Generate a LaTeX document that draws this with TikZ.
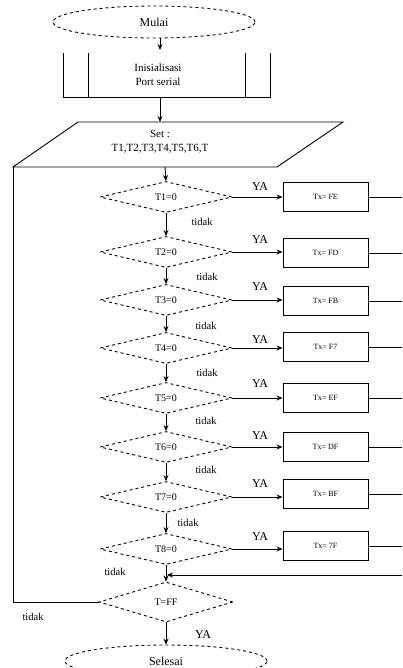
\documentclass[tikz,border=0pt]{standalone}
\usepackage{fontspec}
\setmainfont{Liberation Serif}
\usetikzlibrary{shapes.geometric,arrows.meta}
\tikzset{
  every picture/.style={line width=0.9pt},
  arr/.style={-{Stealth[length=6pt,width=5pt]}},
  term/.style={ellipse,draw,dashed,minimum width=202pt,minimum height=32pt,inner sep=0pt,font=\fontsize{12}{13}\selectfont},
  dec/.style={diamond,draw,dashed,minimum width=132pt,minimum height=31pt,inner sep=0pt,aspect=4,font=\fontsize{10}{11}\selectfont},
  outbox/.style={rectangle,draw,minimum width=85pt,minimum height=29pt,inner sep=0pt,font=\fontsize{8}{9}\selectfont},
  lbl/.style={font=\fontsize{10.5}{11}\selectfont,inner sep=0pt},
  ya/.style={font=\fontsize{12}{13}\selectfont,inner sep=0pt},
  txt/.style={align=center,inner sep=0pt,font=\fontsize{11}{14}\selectfont}
}
\begin{document}
\begin{tikzpicture}[x=1pt,y=-1pt]
\useasboundingbox (0,0) rectangle (402,668);
\clip (0,0) rectangle (402,668);
\fill[white] (0,0) rectangle (402,668);
% start
\node[term] (mulai) at (154,22) {Mulai};
% predefined process
\node[txt] (init) at (158,75) {Inisialisasi\\Port serial};
\draw (63,53) -- (63,97) -- (270,97) -- (270,53);
\draw (88,53) -- (88,97);
\draw (245,53) -- (245,97);
\coordinate (initT) at (160,50);
\coordinate (initB) at (160,97);
\draw[arr] (160,38) -- (initT);
% input/output
\draw (78,122) -- (343,122) -- (277,167) -- (13,167) -- cycle;
\node[txt] (set) at (160,142) {Set :\\T1,T2,T3,T4,T5,T6,T};
\coordinate (setT) at (160,122);
\coordinate (setB) at (165,167);
\draw[arr] (initB) -- (setT);
% decisions
\node[dec] (d1) at (166,197) {T1=0};
\node[dec] (d2) at (166,252) {T2=0};
\node[dec] (d3) at (166,300) {T3=0};
\node[dec] (d4) at (166,348) {T4=0};
\node[dec] (d5) at (166,398) {T5=0};
\node[dec] (d6) at (166,447) {T6=0};
\node[dec] (d7) at (166,497) {T7=0};
\node[dec] (d8) at (166,549) {T8=0};
\node[dec,minimum width=134pt,minimum height=40pt] (dff) at (166,602) {T=FF};
\node[term] (selesai) at (166,661) {Selesai};
% output boxes
\node[outbox] (b1) at (325.5,197) {Tx= FE};
\node[outbox] (b2) at (325.5,253) {Tx= FD};
\node[outbox] (b3) at (325.5,301) {Tx= FB};
\node[outbox] (b4) at (325.5,347) {Tx= F7};
\node[outbox] (b5) at (325.5,398) {Tx= EF};
\node[outbox] (b6) at (325.5,447) {Tx= DF};
\node[outbox] (b7) at (325.5,494) {Tx= BF};
\node[outbox] (b8) at (325.5,546) {Tx= 7F};
% main flow
\draw[arr] (setB) -- (d1.north);
\foreach \a/\b in {d1/d2,d2/d3,d3/d4,d4/d5,d5/d6,d6/d7,d7/d8,d8/dff}
  \draw[arr] (\a.south) -- (\b.north);
\draw[arr] (dff.south) -- (selesai.north);
% YA branches
\foreach \i in {1,...,8}
  \draw[arr] (d\i.east) -- (d\i.east -| b\i.west);
\foreach \i/\y in {1/187,2/240,3/287,4/340,5/384,6/436,7/484,8/537}
  \node[ya] (ya\i) at (260,\y) {YA};
% right return lines
\foreach \i in {1,...,8}
  \draw (b\i.east) -- (402,0 |- b\i.east);
\coordinate (ret) at (402,575);
\coordinate (retEnd) at (167,575);
\draw[arr,line width=0.6pt] (ret) -- (retEnd);
% loop back
\coordinate (loopA) at (13,602);
\coordinate (loopB) at (13,167);
\draw (dff.west) -- (loopA) -- (loopB);
% labels
\node[lbl] (t1) at (202,222) {tidak};
\node[lbl] (t2) at (207,277) {tidak};
\node[lbl] (t3) at (206,326) {tidak};
\node[lbl] (t4) at (207,373) {tidak};
\node[lbl] (t5) at (206,421) {tidak};
\node[lbl] (t6) at (206,470) {tidak};
\node[lbl] (t7) at (188,523) {tidak};
\node[lbl] (t8) at (115,572) {tidak};
\node[lbl] (t9) at (33,617) {tidak};
\node[ya] (ya9) at (203,635) {YA};
\end{tikzpicture}
\end{document}
